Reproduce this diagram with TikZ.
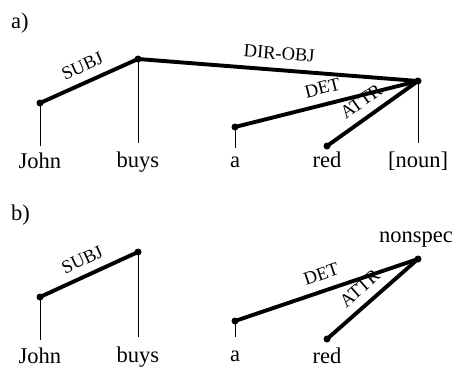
\documentclass[tikz,border=0pt]{standalone}
\usepackage{fontspec}
\setmainfont{Liberation Serif}
\begin{document}
\begin{tikzpicture}[x=1pt,y=-1pt,
  dot/.style={circle,fill=black,inner sep=0pt,minimum size=7pt},
  edge/.style={line width=3.9pt},
  stem/.style={line width=0.8pt},
  word/.style={anchor=base,inner sep=0pt,font=\fontsize{22.5}{26}\selectfont},
  lab/.style={sloped,above=8.5pt,inner sep=0pt,text depth=0pt,font=\fontsize{18.5}{21}\selectfont},
  part/.style={anchor=base west,inner sep=0pt,font=\fontsize{22.5}{26}\selectfont}]
\useasboundingbox (0,0) rectangle (457,367);
% ---------- a)
\node[part] (pa) at (11,28) {a)};
\node[dot] (aj) at (40,103) {};
\node[dot] (ab) at (138,59) {};
\node[dot] (aa) at (235,127) {};
\node[dot] (ar) at (327,146) {};
\node[dot] (an) at (418,81) {};
\coordinate (ajs) at (40,146);
\coordinate (abs) at (138,143);
\coordinate (aas) at (235,148);
\coordinate (ans) at (418,143);
\node[word] (wj) at (40,168) {John};
\node[word] (wb) at (138,167) {buys};
\node[word] (wa) at (235,167) {a};
\node[word] (wr) at (327,167) {red};
\node[word] (wn) at (418,167) {[noun]};
\draw[stem] (aj.center) -- (ajs);
\draw[stem] (ab.center) -- (abs);
\draw[stem] (aa.center) -- (aas);
\draw[stem] (an.center) -- (ans);
\draw[edge] (aj.center) -- node[lab] {SUBJ} (ab.center);
\draw[edge] (ab.center) -- node[lab] {DIR-OBJ} (an.center);
\draw[edge] (aa.center) -- node[lab] {DET} (an.center);
\draw[edge] (ar.center) -- node[lab,pos=0.48] {ATTR} (an.center);
% ---------- b)
\node[part] (pb) at (11,220) {b)};
\node[dot] (bj) at (40,297) {};
\node[dot] (bb) at (138,252) {};
\node[dot] (ba) at (235,321) {};
\node[dot] (br) at (327,339) {};
\node[dot] (bn) at (418,259) {};
\coordinate (bjs) at (40,340);
\coordinate (bbs) at (138,337);
\coordinate (bas) at (235,337);
\node[word] (vj) at (40,363) {John};
\node[word] (vb) at (138,362) {buys};
\node[word] (va) at (235,361) {a};
\node[word] (vr) at (327,363) {red};
\node[word] (vn) at (416,242) {nonspec};
\draw[stem] (bj.center) -- (bjs);
\draw[stem] (bb.center) -- (bbs);
\draw[stem] (ba.center) -- (bas);
\draw[edge] (bj.center) -- node[lab] {SUBJ} (bb.center);
\draw[edge] (ba.center) -- node[lab] {DET} (bn.center);
\draw[edge] (br.center) -- node[lab,pos=0.48] {ATTR} (bn.center);
\end{tikzpicture}
\end{document}
